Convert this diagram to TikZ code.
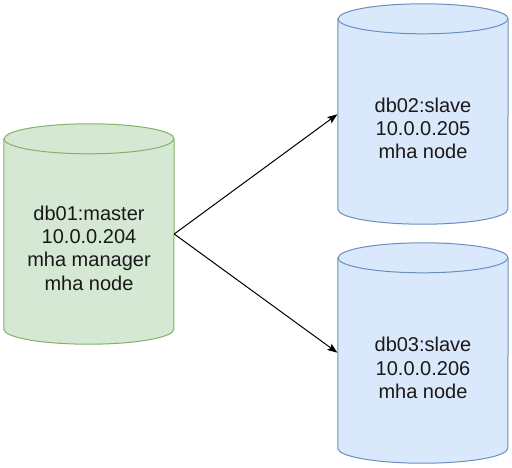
\documentclass[tikz,border=0pt]{standalone}
\usepackage{fontspec}
\setmainfont{Liberation Sans}
\usetikzlibrary{arrows.meta,calc}
\definecolor{gfill}{HTML}{D5E8D4}
\definecolor{gline}{HTML}{82B366}
\definecolor{bfill}{HTML}{DAE8FC}
\definecolor{bline}{HTML}{6C8EBF}
\tikzset{
  cylbox/.style={draw=none, inner sep=0pt, minimum width=170pt, minimum height=220pt},
  lbl/.style={align=center, text=black!90, font=\fontsize{20}{23.3}\selectfont, inner sep=0pt},
  link/.style={draw=black, line width=1pt, -{Stealth[length=10pt,width=7.5pt,inset=2pt]}, shorten >=0.5pt},
  greencyl/.style={fill=gfill, draw=gline, line width=1pt},
  bluecyl/.style={fill=bfill, draw=bline, line width=1pt},
}
\newcommand{\drawcyl}[2]{%
  \path[#2] ($(#1.north west)+(0,-15)$) -- ($(#1.south west)+(0,15)$)
    arc[start angle=180, end angle=360, x radius=85pt, y radius=15pt]
    -- ($(#1.north east)+(0,-15)$)
    arc[start angle=0, end angle=180, x radius=85pt, y radius=15pt] -- cycle;
  \draw[#2, fill=none] ($(#1.north west)+(0,-15)$)
    arc[start angle=180, end angle=360, x radius=85pt, y radius=15pt];
}
\begin{document}
\begin{tikzpicture}[x=1pt,y=1pt]
\useasboundingbox (0,0) rectangle (512,-467);
\node[cylbox] (master) at (89,-234) {};
\node[cylbox] (slave1) at (423,-114) {};
\node[cylbox] (slave2) at (423,-353) {};
\drawcyl{master}{greencyl}
\drawcyl{slave1}{bluecyl}
\drawcyl{slave2}{bluecyl}
\node[lbl] (tmaster) at (89,-248) {db01:master\\10.0.0.204\\mha manager\\mha node};
\node[lbl] (tslave1) at (423,-128.5) {db02:slave\\10.0.0.205\\mha node};
\node[lbl] (tslave2) at (423,-368) {db03:slave\\10.0.0.206\\mha node};
\draw[link] (master.east) -- (slave1.west);
\draw[link] (master.east) -- (slave2.west);
\end{tikzpicture}
\end{document}
